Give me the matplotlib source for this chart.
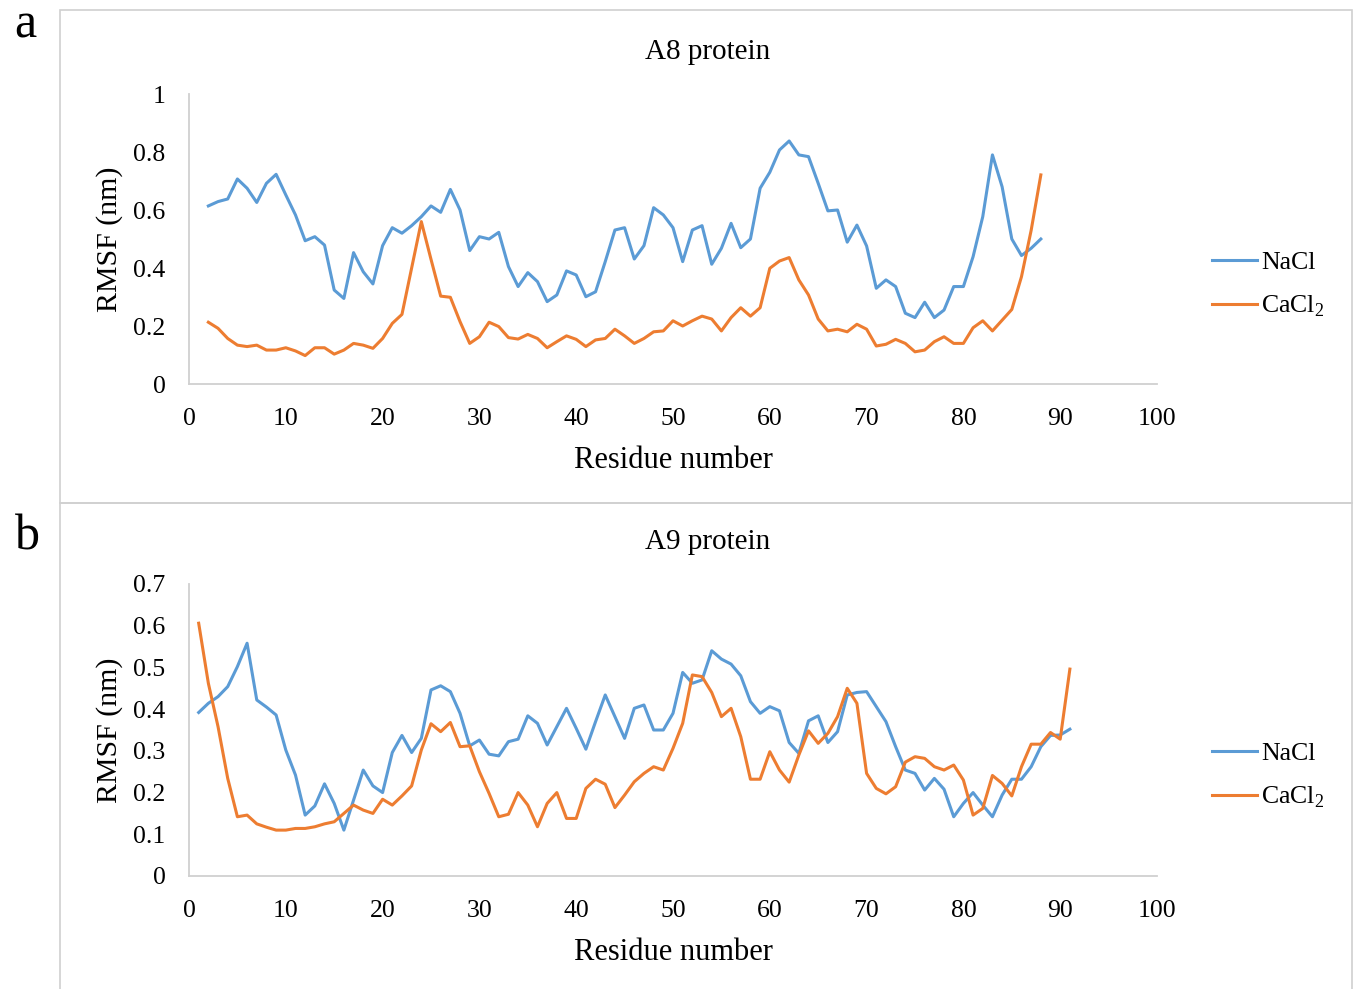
import matplotlib
matplotlib.use("Agg")
import matplotlib.pyplot as plt
from matplotlib.patches import Rectangle
from matplotlib.ticker import FuncFormatter

plt.rcParams['font.family'] = ['Liberation Serif', 'DejaVu Serif']
plt.rcParams['mathtext.fontset'] = 'custom'
plt.rcParams['mathtext.rm'] = 'Liberation Serif'

# A8 protein, residues 2..88
a8_residues = list(range(2, 89))
a8_nacl = [0.614, 0.629, 0.638, 0.707, 0.675, 0.626, 0.692, 0.723, 0.652, 0.583,
           0.494, 0.508, 0.479, 0.324, 0.295, 0.453, 0.387, 0.345, 0.477, 0.539,
           0.520, 0.546, 0.577, 0.614, 0.592, 0.671, 0.600, 0.460, 0.508, 0.500,
           0.523, 0.405, 0.336, 0.384, 0.353, 0.284, 0.307, 0.390, 0.376, 0.301,
           0.318, 0.422, 0.531, 0.539, 0.431, 0.477, 0.608, 0.583, 0.539, 0.422,
           0.531, 0.546, 0.413, 0.468, 0.554, 0.470, 0.500, 0.675, 0.730, 0.807,
           0.838, 0.790, 0.784, 0.692, 0.597, 0.600, 0.489, 0.548, 0.476, 0.330,
           0.359, 0.336, 0.244, 0.229, 0.282, 0.229, 0.255, 0.336, 0.336, 0.439,
           0.577, 0.790, 0.680, 0.500, 0.443, 0.468, 0.500]
a8_cacl2 = [0.213, 0.192, 0.157, 0.134, 0.129, 0.134, 0.117, 0.117, 0.125, 0.114,
            0.098, 0.125, 0.125, 0.103, 0.117, 0.140, 0.134, 0.123, 0.157, 0.209,
            0.240, 0.400, 0.560, 0.430, 0.303, 0.299, 0.215, 0.140, 0.163, 0.213,
            0.198, 0.160, 0.155, 0.171, 0.157, 0.125, 0.146, 0.166, 0.154, 0.129,
            0.152, 0.157, 0.189, 0.166, 0.140, 0.157, 0.180, 0.183, 0.218, 0.200,
            0.218, 0.234, 0.224, 0.183, 0.229, 0.263, 0.234, 0.263, 0.399, 0.424,
            0.436, 0.359, 0.307, 0.224, 0.183, 0.189, 0.180, 0.206, 0.189, 0.131,
            0.137, 0.154, 0.140, 0.111, 0.117, 0.146, 0.163, 0.140, 0.140, 0.194,
            0.218, 0.183, 0.220, 0.257, 0.370, 0.530, 0.721]

# A9 protein, residues 1..91
a9_residues = list(range(1, 92))
a9_nacl = [0.392, 0.414, 0.430, 0.454, 0.502, 0.558, 0.422, 0.405, 0.386, 0.302,
           0.242, 0.146, 0.168, 0.221, 0.174, 0.110, 0.182, 0.254, 0.216, 0.200,
           0.296, 0.337, 0.296, 0.330, 0.446, 0.456, 0.442, 0.390, 0.312, 0.326,
           0.292, 0.288, 0.322, 0.328, 0.384, 0.366, 0.314, 0.358, 0.402, 0.354,
           0.304, 0.370, 0.434, 0.382, 0.330, 0.402, 0.410, 0.350, 0.350, 0.390,
           0.488, 0.462, 0.470, 0.540, 0.520, 0.508, 0.480, 0.418, 0.390, 0.406,
           0.396, 0.320, 0.294, 0.372, 0.384, 0.320, 0.346, 0.434, 0.440, 0.442,
           0.406, 0.370, 0.310, 0.254, 0.246, 0.206, 0.234, 0.208, 0.142, 0.174,
           0.200, 0.170, 0.142, 0.194, 0.232, 0.232, 0.262, 0.310, 0.337, 0.338,
           0.352]
a9_cacl2 = [0.606, 0.462, 0.358, 0.234, 0.142, 0.146, 0.125, 0.117, 0.110, 0.110,
            0.114, 0.114, 0.118, 0.125, 0.130, 0.150, 0.170, 0.158, 0.150, 0.184,
            0.170, 0.192, 0.216, 0.302, 0.365, 0.346, 0.368, 0.310, 0.312, 0.250,
            0.198, 0.142, 0.148, 0.200, 0.170, 0.118, 0.174, 0.200, 0.138, 0.138,
            0.210, 0.232, 0.220, 0.164, 0.194, 0.226, 0.246, 0.262, 0.254, 0.306,
            0.366, 0.482, 0.478, 0.440, 0.382, 0.402, 0.334, 0.232, 0.232, 0.298,
            0.254, 0.225, 0.290, 0.348, 0.318, 0.342, 0.382, 0.450, 0.414, 0.246,
            0.210, 0.197, 0.214, 0.273, 0.286, 0.282, 0.262, 0.254, 0.266, 0.230,
            0.146, 0.162, 0.241, 0.222, 0.192, 0.262, 0.316, 0.316, 0.344, 0.328,
            0.496]

x_ticks = [0, 10, 20, 30, 40, 50, 60, 70, 80, 90, 100]
a8_yticks = [0, 0.2, 0.4, 0.6, 0.8, 1]
a9_yticks = [0, 0.1, 0.2, 0.3, 0.4, 0.5, 0.6, 0.7]

blue = '#5B9BD5'
orange = '#ED7D31'
gray = '#d0d0d0'

W, H = 1357, 989
fig = plt.figure(figsize=(W / 100, H / 100), dpi=100)

# panel borders
fig.patches.append(Rectangle((60 / W, 1 - 503 / H), 1292 / W, 493 / H,
                             transform=fig.transFigure, fill=False,
                             edgecolor=gray, linewidth=1.2))
fig.patches.append(Rectangle((60 / W, -0.02), 1292 / W, 1 - 503 / H + 0.02,
                             transform=fig.transFigure, fill=False,
                             edgecolor=gray, linewidth=1.2))

fig.text(25 / W, 1 - 25 / H, 'a', fontsize=36, ha='center', va='center')
fig.text(27 / W, 1 - 537 / H, 'b', fontsize=36, ha='center', va='center')


def draw_panel(ax, x, nacl, cacl2, yticks, title):
    ax.plot(x, nacl, color=blue, linewidth=2.2, label='NaCl')
    ax.plot(x, cacl2, color=orange, linewidth=2.2, label='CaCl$_2$')
    ax.set_xlim(0, 100)
    ax.set_ylim(yticks[0], yticks[-1])
    ax.set_xticks(x_ticks)
    ax.set_yticks(yticks)
    ax.yaxis.set_major_formatter(FuncFormatter(lambda v, p: '%g' % round(v, 2)))
    for s in ['top', 'right']:
        ax.spines[s].set_visible(False)
    for s in ['left', 'bottom']:
        ax.spines[s].set_color(gray)
        ax.spines[s].set_linewidth(1.3)
    ax.tick_params(axis='both', length=0, labelsize=18.5)
    ax.tick_params(axis='x', pad=17)
    ax.tick_params(axis='y', pad=17)
    ax.set_title(title, fontsize=21, pad=25, x=0.536)
    ax.set_xlabel('Residue number', fontsize=22, labelpad=12)
    ax.set_ylabel('RMSF (nm)', fontsize=21.5, labelpad=7)
    ax.legend(loc='center left', bbox_to_anchor=(1.033, 0.342), frameon=False,
              fontsize=18.5, handlelength=1.75, handletextpad=0.15,
              labelspacing=0.78)


ax1 = fig.add_axes([189 / W, 1 - 384 / H, 968 / W, 290 / H])
draw_panel(ax1, a8_residues, a8_nacl, a8_cacl2, a8_yticks, 'A8 protein')

ax2 = fig.add_axes([189 / W, 1 - 876 / H, 968 / W, 292 / H])
draw_panel(ax2, a9_residues, a9_nacl, a9_cacl2, a9_yticks, 'A9 protein')

fig.savefig('out.png', dpi=100)
